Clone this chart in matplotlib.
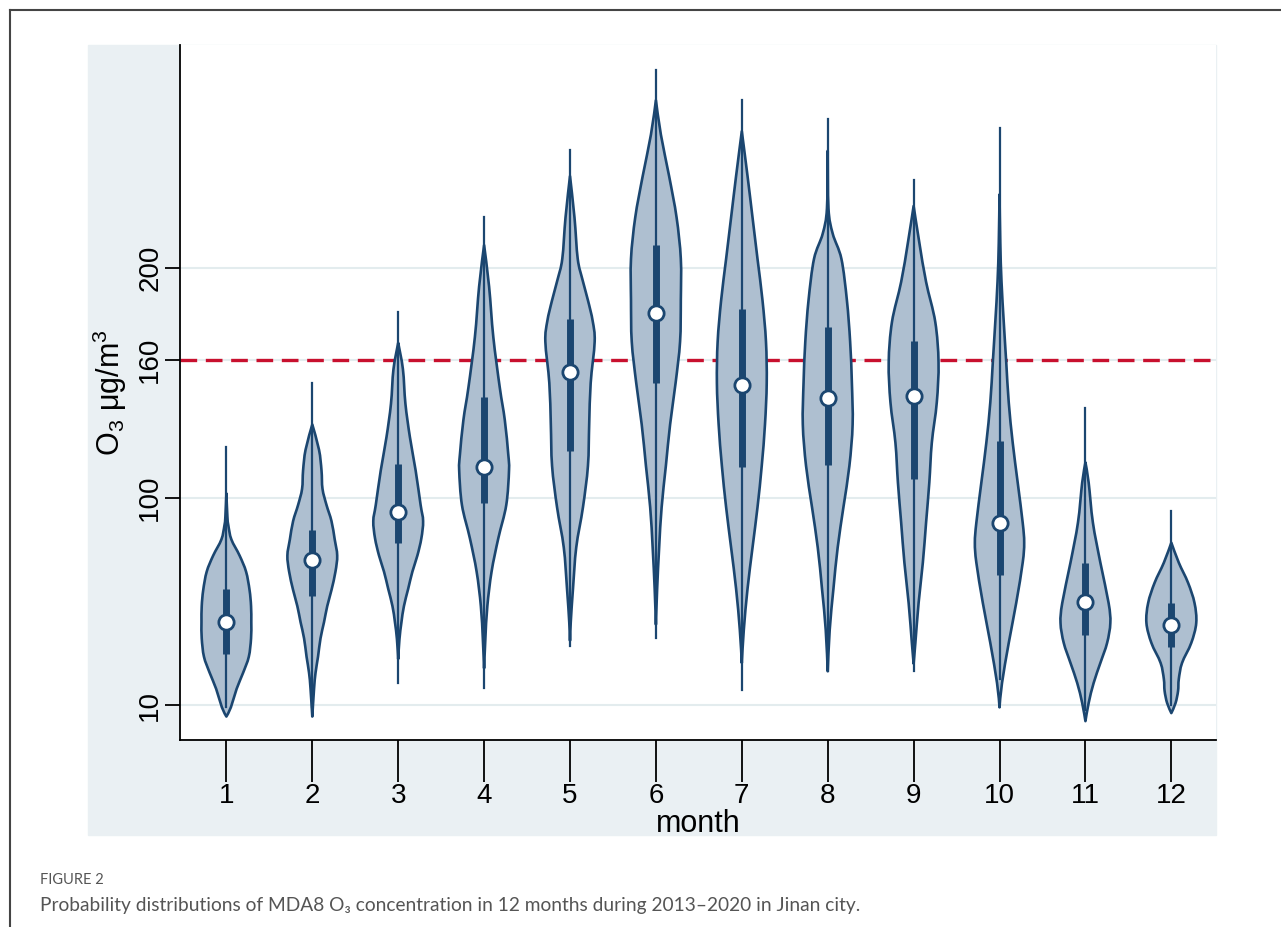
import numpy as np
import matplotlib
matplotlib.use("Agg")
import matplotlib.pyplot as plt
from matplotlib.patches import Rectangle, PathPatch
from matplotlib.path import Path
from matplotlib.lines import Line2D

plt.rcParams['font.family'] = ['Liberation Sans', 'DejaVu Sans']
plt.rcParams['mathtext.fontset'] = 'custom'
plt.rcParams['mathtext.rm'] = 'Liberation Sans'
plt.rcParams['mathtext.it'] = 'Liberation Sans:italic'

months = list(range(1, 13))

# density outline of every violin: O3 level (top -> bottom) and relative width (max = 1)
lv1 = [102, 92, 88, 82, 75, 68, 60, 53, 46, 39, 31, 24, 17, 9, 5]
d1 = [0, .04, .08, .2, .53, .79, .93, .99, 1.0, .99, .9, .67, .41, .18, 0]
lv2 = [132, 121, 112, 104, 97, 90, 82, 75, 68, 60, 53, 46, 39, 31, 24, 17, 5]
d2 = [0, .27, .37, .41, .57, .77, .9, 1.0, .93, .77, .6, .47, .33, .23, .13, .07, 0]
lv3 = [167.5, 156, 141, 126.5, 112, 97, 90, 82.5, 75, 68, 60.5, 53, 46, 38.6, 30]
d3 = [0, .19, .29, .47, .7, .9, 1.0, .93, .77, .57, .4, .23, .13, .05, 0]
lv4 = [210, 192, 170, 148, 134, 119, 112, 97, 82.5, 68, 53, 38.6, 26]
d4 = [0, .2, .37, .63, .83, .97, 1.0, .89, .57, .3, .13, .05, 0]
lv5 = [240, 222, 204, 195, 186, 177, 168, 150, 132, 114, 96, 78.5, 60.6, 46, 38]
d5 = [0, .18, .31, .5, .72, .91, .99, .83, .77, .72, .52, .25, .12, .03, 0]
lv6 = [273, 258, 240, 222, 204, 186, 168, 150, 132, 114, 96, 78.5, 60.6, 45]
d6 = [0, .2, .53, .83, 1.0, 1.0, .97, .79, .57, .4, .23, .13, .05, 0]
lv7 = [259.5, 240, 222, 204, 186, 168, 150, 132, 114, 96, 78.5, 60.6, 42.7, 28.3]
d7 = [0, .23, .43, .63, .83, .97, 1.0, .93, .8, .63, .43, .23, .08, 0]
lv8 = [251, 226, 215, 204, 186, 168, 150, 132, 114, 96, 78.5, 60.6, 42.7, 24.7]
d8 = [0, .03, .2, .55, .77, .9, .97, 1.0, .87, .63, .4, .23, .08, 0]
lv9 = [227, 211, 194, 176.5, 159, 141.6, 124, 106.7, 89.3, 71.9, 54.4, 37, 28]
d9 = [0, .23, .5, .87, 1.0, .93, .73, .63, .5, .37, .2, .07, 0]
lv10 = [232, 211, 194, 176.5, 159, 141.6, 124, 106.7, 89.3, 80.6, 71.9, 54.4, 37, 19.6, 9]
d10 = [0, .03, .08, .17, .27, .37, .53, .73, .93, .99, .93, .67, .37, .1, 0]
lv11 = [115.5, 106.7, 89.3, 71.9, 54.4, 45.7, 37, 28.3, 19.6, 10.9, 3]
d11 = [0, .13, .3, .6, .93, 1.0, .87, .6, .33, .13, 0]
lv12 = [80.6, 71.9, 63.2, 54.4, 45.7, 37, 28.3, 21.3, 16.1, 10.9, 6.5]
d12 = [0, .3, .67, .93, 1.0, .8, .43, .3, .27, .17, 0]

levels = [lv1, lv2, lv3, lv4, lv5, lv6, lv7, lv8, lv9, lv10, lv11, lv12]
dens = [d1, d2, d3, d4, d5, d6, d7, d8, d9, d10, d11, d12]

# box statistics
whisk_lo = [9, 9, 19.5, 17.3, 35.5, 39, 16.7, 24.7, 24.8, 21.3, 8, 10]
whisk_hi = [122, 150, 180.7, 222.4, 251.4, 286, 272.9, 265, 238.3, 261, 139, 94.5]
q1 = [32, 57.6, 80.3, 97.9, 120.6, 150.2, 113.4, 114.3, 108.5, 66.6, 40.5, 35.3]
med = [46.2, 73, 94, 113.3, 154.7, 180.3, 149.3, 143.4, 144.2, 89, 54.8, 44.9]
q3 = [60.5, 86.2, 114.7, 144, 178, 210.2, 182.4, 174.4, 168.1, 125, 71.9, 54.4]

yticks = [10, 100, 160, 200]
standard = 160

navy = '#1b4670'
fill = '#aebfd0'
halfw = 0.29


def bezier_side(pts):
    # catmull-rom through the outline points, as cubic bezier pieces
    verts = []
    n = len(pts)
    for i in range(n - 1):
        p0 = pts[i - 1] if i > 0 else pts[i]
        p1 = pts[i]
        p2 = pts[i + 1]
        p3 = pts[i + 2] if i + 2 < n else pts[i + 1]
        verts += [p1 + (p2 - p0) / 6, p2 - (p3 - p1) / 6, p2]
    return verts


def violin_path(m, lv, d):
    lv = np.array(lv, float)
    d = np.array(d, float)
    right = np.column_stack([m + d * halfw, lv])
    left = np.column_stack([m - d * halfw, lv])[::-1]
    verts = [right[0]] + bezier_side(right) + bezier_side(left)
    codes = [Path.MOVETO] + [Path.CURVE4] * (len(verts) - 1)
    verts.append(right[0])
    codes.append(Path.CLOSEPOLY)
    return Path(np.array(verts), codes)


fig = plt.figure(figsize=(12.81, 9.27), dpi=100)
bg = Rectangle((88/1281, 1-835/927), 1128/1281, 790/927,
               transform=fig.transFigure, color='#eaf0f3', zorder=-10)
fig.patches.append(bg)
fig.lines.append(Line2D([10/1281, 1], [1-10/927, 1-10/927], transform=fig.transFigure,
                        color='#444444', lw=1.5))
fig.lines.append(Line2D([10/1281, 10/1281], [0, 1-10/927], transform=fig.transFigure,
                        color='#444444', lw=1.5))

ax = fig.add_axes([180/1281, 1-740/927, 1036/1281, 695/927])
ax.set_facecolor('white')

for y in yticks:
    ax.axhline(y, color='#e3ecee', lw=1.5, zorder=1)
ax.axhline(standard, color='#c8102e', lw=2.4, ls=(0, (5, 2.6)), zorder=2)

for i, m in enumerate(months):
    ax.add_patch(PathPatch(violin_path(m, levels[i], dens[i]), facecolor=fill,
                           edgecolor=navy, lw=1.9, joinstyle='round', zorder=3))
    ax.plot([m, m], [whisk_lo[i], whisk_hi[i]], color=navy, lw=1.6, zorder=4)
    ax.plot([m, m], [q1[i], q3[i]], color=navy, lw=5, solid_capstyle='butt', zorder=5)
    ax.plot(m, med[i], 'o', ms=11, mfc='white', mec=navy, mew=2, zorder=6)

ax.set_xlim(0.46, 12.52)
ax.set_ylim(-5.2, 297)
ax.set_xticks(months)
ax.set_yticks(yticks)
ax.tick_params(axis='x', length=30, width=1.3, labelsize=20, pad=1)
ax.tick_params(axis='y', length=11, width=1.3, labelsize=20, pad=1, labelrotation=90)
for lab in ax.get_yticklabels():
    lab.set_va('center')
for s in ['top', 'right']:
    ax.spines[s].set_visible(False)
for s in ['left', 'bottom']:
    ax.spines[s].set_linewidth(1.3)

ax.set_xlabel('month', fontsize=22, labelpad=0)
ax.set_ylabel(r'O$_3$ μg/m$^3$', fontsize=22, labelpad=6)

fig.text(40/1281, 1-880/927, 'FIGURE 2', fontsize=10.5, color='#555555',
         family=['Lato', 'DejaVu Sans'], va='center')
fig.text(40/1281, 1-905/927,
         'Probability distributions of MDA8 O\u2083 concentration in 12 months during 2013\u20132020 in Jinan city.',
         fontsize=13.8, color='#555555', family=['Lato', 'DejaVu Sans'], va='center')

fig.savefig('out.png', dpi=100)
